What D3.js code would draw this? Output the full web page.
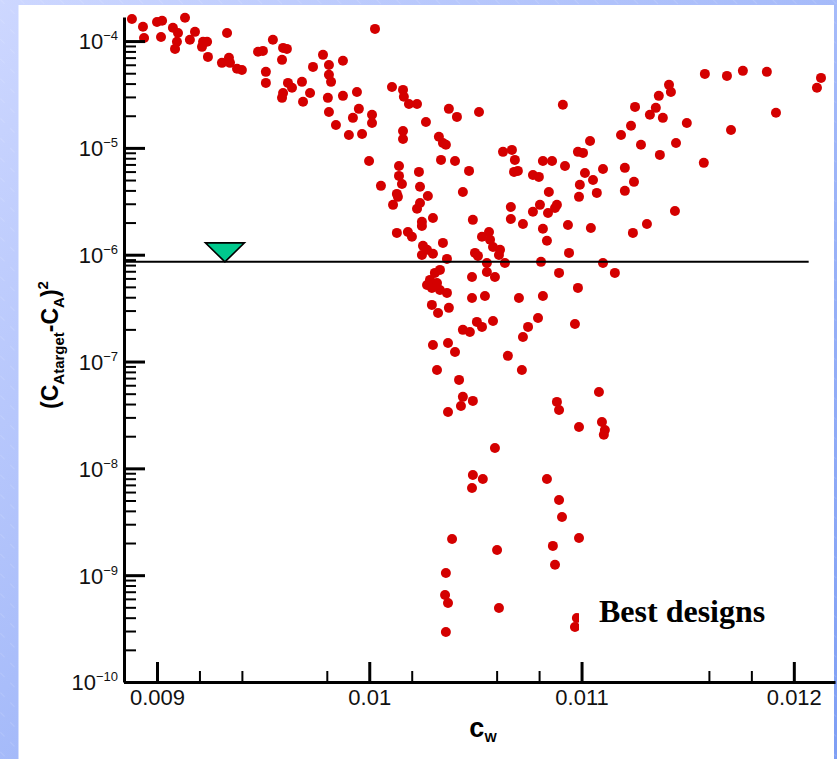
<!DOCTYPE html>
<html><head><meta charset="utf-8">
<script src="https://cdn.jsdelivr.net/npm/d3@7"></script>
<style>body{margin:0;background:#fff}svg{display:block}</style></head>
<body>
<script>
// ---- data ----
const cw = [
0.008882,0.008934,0.008939,0.009000,0.009024,0.009132,0.009019,0.009075,0.009099,0.009094,
0.009085,0.009155,0.009179,0.009217,0.009236,0.009212,0.009240,0.009330,0.009306,0.009339,
0.009344,0.009377,0.009400,0.009476,0.009499,0.009546,0.009594,0.009612,0.009589,0.009513,
0.009513,0.009617,0.009636,0.009594,0.009589,0.009683,0.009721,0.009688,0.009735,0.009782,
0.009810,0.009810,0.009820,0.009876,0.009805,0.009876,0.009942,0.009810,0.009843,0.009951,
0.009923,0.010013,0.010013,0.009904,0.009966,0.010027,0.010107,0.010159,0.010163,0.010187,
0.010225,0.010159,0.010159,0.010267,0.010375,0.010413,0.010517,0.010912,0.010328,0.010347,
0.010361,0.009999,0.010140,0.010140,0.010154,0.010130,0.010135,0.010112,0.010055,0.010234,
0.010239,0.010276,0.010239,0.010225,0.010248,0.010248,0.010300,0.010338,0.010404,0.010470,
0.010441,0.010130,0.010182,0.010201,0.010253,0.010272,0.010248,0.010300,0.010347,0.010366,
0.010488,0.010531,0.010564,0.010569,0.010583,0.010616,0.010611,0.010498,0.010512,0.010639,
0.010554,0.010554,0.010592,0.010484,0.010286,0.010309,0.010333,0.010272,0.010295,0.010319,
0.010333,0.010366,0.010630,0.010672,0.010686,0.010682,0.010700,0.010667,0.010667,0.010724,
0.010818,0.010861,0.010922,0.010771,0.010799,0.010846,0.010804,0.010771,0.010884,0.010875,
0.010842,0.010818,0.010837,0.010936,0.010941,0.010809,0.010894,0.010983,0.011040,0.010983,
0.011007,0.011016,0.011054,0.011101,0.010992,0.010988,0.011072,0.011044,0.011101,0.011157,
0.011186,0.011233,0.011252,0.011280,0.011322,0.011350,0.011364,0.011412,0.011421,0.011383,
0.011369,0.011445,0.011496,0.011204,0.011247,0.011204,0.011576,0.011581,0.011685,0.011760,
0.011873,0.012128,0.012109,0.011704,0.011916,0.011440,0.011308,0.011242,
0.010295,0.010324,0.010375,0.010484,0.010545,0.010705,0.010818,0.010969,0.010300,0.010371,
0.010404,0.010441,0.010474,0.010507,0.010531,0.010583,0.010748,0.010724,0.010795,0.010653,
0.010319,0.010423,0.010719,0.010441,0.010488,0.010432,0.010371,0.010884,0.010894,0.011082,
0.010988,0.011096,0.011110,0.011105,0.010592,0.010488,0.010535,0.010484,0.010837,0.010894,
0.010908,0.010390,0.010602,0.010865,0.010875,0.010988,0.010361,0.010357,0.010371,0.010611,
0.010361,0.010978,0.010969
];
const err = [
1.61e-4,1.36e-4,1.07e-4,1.51e-4,1.55e-4,1.65e-4,1.09e-4,1.33e-4,1.19e-4,9.84e-5,
8.45e-5,1.03e-4,1.22e-4,9.84e-5,9.84e-5,8.83e-5,7.11e-5,1.19e-4,6.25e-5,6.97e-5,
6.25e-5,5.50e-5,5.37e-5,7.93e-5,8.09e-5,1.03e-4,8.63e-5,8.45e-5,6.67e-5,5.15e-5,
4.06e-5,4.06e-5,3.65e-5,3.27e-5,2.94e-5,4.15e-5,3.27e-5,2.70e-5,5.73e-5,7.43e-5,
5.98e-5,4.83e-5,4.15e-5,6.53e-5,2.94e-5,3.07e-5,3.34e-5,2.17e-5,1.64e-5,2.32e-5,
1.91e-5,2.04e-5,1.71e-5,1.32e-5,1.35e-5,1.30e-4,3.72e-5,3.49e-5,3.01e-5,2.58e-5,
2.58e-5,1.44e-5,1.21e-5,1.75e-5,2.32e-5,1.95e-5,2.17e-5,2.53e-5,1.27e-5,1.11e-5,
1.07e-5,7.55e-6,6.78e-6,5.47e-6,4.60e-6,3.71e-6,3.48e-6,2.93e-6,4.41e-6,5.96e-6,
4.32e-6,3.55e-6,3.05e-6,2.69e-6,2.03e-6,1.86e-6,2.21e-6,7.72e-6,7.55e-6,6.09e-6,
3.87e-6,1.60e-6,1.63e-6,1.47e-6,1.21e-6,1.11e-6,9.95e-7,1.02e-6,1.29e-6,9.14e-7,
2.12e-6,1.47e-6,1.63e-6,1.38e-6,1.18e-6,1.11e-6,9.95e-7,1.04e-6,9.75e-7,8.38e-7,
8.38e-7,6.90e-7,6.19e-7,6.19e-7,5.81e-7,6.76e-7,7.21e-7,5.21e-7,4.89e-7,5.44e-7,
4.68e-7,4.39e-7,9.18e-6,9.58e-6,7.72e-6,5.96e-6,6.09e-6,2.80e-6,2.16e-6,1.94e-6,
7.55e-6,7.55e-6,6.78e-6,5.58e-6,5.35e-6,3.87e-6,2.93e-6,2.52e-6,2.93e-6,2.74e-6,
2.46e-6,1.75e-6,1.35e-6,1.90e-6,1.04e-6,8.57e-7,6.76e-7,4.89e-7,1.16e-5,9.18e-6,
8.98e-6,5.83e-6,5.01e-6,6.35e-6,4.51e-6,3.48e-6,3.79e-6,1.78e-6,8.38e-7,6.76e-7,
1.32e-5,1.61e-5,2.42e-5,1.07e-5,2.04e-5,2.37e-5,3.07e-5,3.89e-5,3.34e-5,1.91e-5,
8.60e-6,1.11e-5,1.71e-5,6.50e-6,4.81e-6,3.96e-6,7.24e-6,4.93e-5,4.72e-5,5.26e-5,
5.15e-5,4.52e-5,3.65e-5,1.47e-5,2.13e-5,2.57e-6,1.94e-6,1.60e-6,
3.39e-7,2.85e-7,3.18e-7,3.94e-7,4.11e-7,3.94e-7,4.11e-7,2.25e-7,1.43e-7,1.49e-7,
1.23e-7,1.98e-7,1.89e-7,2.35e-7,2.11e-7,2.40e-7,2.11e-7,1.70e-7,2.56e-7,1.13e-7,
8.34e-8,6.73e-8,8.34e-8,4.67e-8,4.28e-8,3.84e-8,3.37e-8,4.19e-8,3.52e-8,5.19e-8,
2.44e-8,2.72e-8,2.29e-8,2.06e-8,1.55e-8,8.67e-9,7.96e-9,6.55e-9,7.96e-9,5.06e-9,
3.51e-9,2.18e-9,1.72e-9,1.88e-9,1.25e-9,2.23e-9,1.05e-9,6.53e-10,5.50e-10,4.93e-10,
2.94e-10,3.97e-10,3.27e-10
];
const xMajorTicks = [0.009, 0.010, 0.011, 0.012];
const xMajorLabels = ["0.009", "0.01", "0.011", "0.012"];
const xMinorTicks = [0.0092, 0.0094, 0.0098, 0.0102, 0.0106, 0.0108, 0.0116, 0.0118];
const yDecades = [1e-10, 1e-9, 1e-8, 1e-7, 1e-6, 1e-5, 1e-4];
const yDecadeExps = ["-10", "-9", "-8", "-7", "-6", "-5", "-4"];
const targetCw = [0.00932];
const targetErr = [8.57e-7];
const thresholdErr = 8.57e-7;
const thresholdEndCw = 0.01207;
const annotationText = "Best designs";

// ---- layout ----
const W = 837, H = 759;
const svg = d3.select("body").append("svg").attr("width", W).attr("height", H);
const defs = svg.append("defs");
const grad = defs.append("linearGradient").attr("id", "bg").attr("x1", 0).attr("y1", 0).attr("x2", 1).attr("y2", 1);
grad.append("stop").attr("offset", "0%").attr("stop-color", "#cdd7ff");
grad.append("stop").attr("offset", "100%").attr("stop-color", "#7e9ef4");
const pat = defs.append("pattern").attr("id", "hatch").attr("patternUnits", "userSpaceOnUse")
  .attr("width", 14).attr("height", 14).attr("patternTransform", "rotate(-45)");
pat.append("line").attr("x1", 0).attr("y1", 0).attr("x2", 0).attr("y2", 14)
  .attr("stroke", "#ffffff").attr("stroke-opacity", 0.25).attr("stroke-width", 1).attr("stroke-dasharray", "6 8");

svg.append("rect").attr("width", W).attr("height", H).attr("fill", "url(#bg)");
svg.append("rect").attr("width", W).attr("height", H).attr("fill", "url(#hatch)");
svg.append("rect").attr("x", 18.5).attr("y", 5).attr("width", 834 - 18.5).attr("height", H - 5).attr("fill", "#ffffff");

const x = d3.scaleLinear().domain([0.0088446, 0.012194]).range([124, 835]);
const y = d3.scaleLog().domain([1e-10, 1.68e-4]).range([682, 17]);

const font = "'Liberation Sans', Arial, Helvetica, sans-serif";

// points
const pts = cw.map((v, i) => ({cw: v, e: err[i]}));
svg.append("g").selectAll("circle").data(pts).join("circle")
  .attr("cx", d => x(d.cw)).attr("cy", d => y(d.e)).attr("r", 5)
  .attr("fill", "#d40000");

// threshold line
svg.append("line")
  .attr("x1", x.range()[0]).attr("x2", x(thresholdEndCw))
  .attr("y1", y(thresholdErr)).attr("y2", y(thresholdErr))
  .attr("stroke", "#000").attr("stroke-width", 2);

// target triangle
svg.append("g").selectAll("path").data(targetCw.map((v, i) => ({cw: v, e: targetErr[i]}))).join("path")
  .attr("transform", d => `translate(${x(d.cw)},${y(d.e)})`)
  .attr("d", "M-19.5,-19 L19.5,-19 L0,0 Z")
  .attr("fill", "#00c98d").attr("stroke", "#000").attr("stroke-width", 1.6).attr("stroke-linejoin", "miter");

// y axis: minor ticks
const yMinor = y.ticks().filter(v => !yDecades.some(d => Math.abs(v / d - 1) < 1e-6));
svg.append("g").attr("transform", "translate(124,0)")
  .call(d3.axisLeft(y).tickValues(yMinor).tickSizeInner(-12).tickSizeOuter(0).tickFormat(""))
  .call(g => g.select(".domain").remove())
  .call(g => g.selectAll(".tick line").attr("stroke", "#000").attr("stroke-width", 2));
// y axis: major
const gy = svg.append("g").attr("transform", "translate(124,0)")
  .call(d3.axisLeft(y).tickValues(yDecades).tickSizeInner(-21).tickSizeOuter(0).tickPadding(6).tickFormat(""));
gy.select(".domain").attr("stroke", "#000").attr("stroke-width", 3);
gy.selectAll(".tick line").attr("stroke", "#000").attr("stroke-width", 3);
gy.selectAll(".tick text").each(function(d, i) {
  const t = d3.select(this).attr("font-family", font).attr("font-size", 22).attr("fill", "#111")
    .attr("x", -6).attr("dy", "0.36em").attr("text-anchor", "end");
  t.append("tspan").text("10");
  t.append("tspan").attr("font-size", 13).attr("dy", -9).text(yDecadeExps[yDecades.indexOf(d)].replace("-", "\u2212"));
});

// x axis: minor
svg.append("g").attr("transform", "translate(0,682)")
  .call(d3.axisBottom(x).tickValues(xMinorTicks).tickSizeInner(-11).tickSizeOuter(0).tickFormat(""))
  .call(g => g.select(".domain").remove())
  .call(g => g.selectAll(".tick line").attr("stroke", "#000").attr("stroke-width", 2));
// x axis: major
const gx = svg.append("g").attr("transform", "translate(0,682)")
  .call(d3.axisBottom(x).tickValues(xMajorTicks).tickSizeInner(-20).tickSizeOuter(0).tickPadding(7)
    .tickFormat((d, i) => xMajorLabels[i]));
gx.select(".domain").attr("stroke", "#000").attr("stroke-width", 3);
gx.selectAll(".tick line").attr("stroke", "#000").attr("stroke-width", 3);
gx.selectAll(".tick text").attr("font-family", font).attr("font-size", 22).attr("fill", "#111");

// axis titles
const xt = svg.append("text").attr("x", 483).attr("y", 737).attr("text-anchor", "middle")
  .attr("font-family", font).attr("font-weight", "bold").attr("fill", "#000");
xt.append("tspan").attr("font-size", 27).text("c");
xt.append("tspan").attr("font-size", 13).attr("dy", 5).text("W");

const yt = svg.append("text").attr("transform", "translate(58,345) rotate(-90)").attr("text-anchor", "middle")
  .attr("font-family", font).attr("font-weight", "bold").attr("fill", "#000");
yt.append("tspan").attr("font-size", 23).text("(C");
yt.append("tspan").attr("font-size", 15).attr("dy", 6).text("Atarget");
yt.append("tspan").attr("font-size", 23).attr("dy", -6).text("-C");
yt.append("tspan").attr("font-size", 15).attr("dy", 6).text("A");
yt.append("tspan").attr("font-size", 23).attr("dy", -6).text(")");
yt.append("tspan").attr("font-size", 15).attr("dy", -10).text("2");

// annotation with white backing
svg.append("rect").attr("x", 579).attr("y", 594).attr("width", 194).attr("height", 40).attr("fill", "#fff");
svg.append("text").attr("x", 599).attr("y", 622)
  .attr("font-family", "'Liberation Serif', 'Times New Roman', serif").attr("font-weight", "bold")
  .attr("font-size", 32).attr("fill", "#000").text(annotationText);
</script>
</body></html>
